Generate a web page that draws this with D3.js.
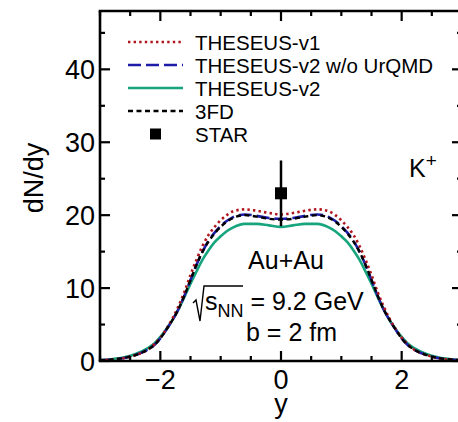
<!DOCTYPE html>
<html>
<head>
<meta charset="utf-8">
<script src="https://cdn.jsdelivr.net/npm/d3@7"></script>
<style>
  body { margin: 0; background: #fff; }
  svg { display: block; font-family: "Liberation Sans", Arial, sans-serif; }
</style>
</head>
<body>
<div id="chart"></div>
<script>
// rapidity grid
var rapidity = [-3, -2.8, -2.6, -2.4, -2.2, -2.1, -2.0, -1.9, -1.8, -1.7, -1.6, -1.5, -1.4, -1.3, -1.2, -1.1, -1.0, -0.9, -0.8, -0.6, -0.4, -0.2,
  0, 0.2, 0.4, 0.6, 0.8, 0.9, 1.0, 1.1, 1.2, 1.3, 1.4, 1.5, 1.6, 1.7, 1.8, 1.9, 2.0, 2.1, 2.2, 2.4, 2.6, 2.8, 3.0];

var theseusV1 = [0.1, 0.2, 0.42, 0.85, 1.6, 2.3, 3.2, 4.4, 5.8, 7.5, 9.5, 11.8, 13.9, 15.8, 17.3, 18.4, 19.3, 20.0, 20.5, 20.8, 20.6, 20.3,
  20.1, 20.3, 20.6, 20.8, 20.5, 20.0, 19.3, 18.4, 17.3, 15.8, 13.9, 11.8, 9.5, 7.5, 5.8, 4.4, 3.2, 2.3, 1.6, 0.85, 0.42, 0.2, 0.1];

var theseusV2noUrqmd = [0.1, 0.2, 0.42, 0.85, 1.6, 2.2, 3.1, 4.3, 5.6, 7.1, 9.0, 11.1, 13.2, 15.0, 16.5, 17.6, 18.5, 19.2, 19.7, 20.1, 19.9, 19.6,
  19.5, 19.6, 19.9, 20.1, 19.7, 19.2, 18.5, 17.6, 16.5, 15.0, 13.2, 11.1, 9.0, 7.1, 5.6, 4.3, 3.1, 2.2, 1.6, 0.85, 0.42, 0.2, 0.1];

var theseusV2 = [0.12, 0.25, 0.5, 1.0, 1.8, 2.4, 3.3, 4.4, 5.6, 7.1, 8.8, 10.6, 12.3, 13.9, 15.2, 16.3, 17.1, 17.8, 18.3, 18.8, 18.8, 18.6,
  18.4, 18.6, 18.8, 18.8, 18.3, 17.8, 17.1, 16.3, 15.2, 13.9, 12.3, 10.6, 8.8, 7.1, 5.6, 4.4, 3.3, 2.4, 1.8, 1.0, 0.5, 0.25, 0.12];

var fd3 = [0.1, 0.2, 0.42, 0.85, 1.6, 2.2, 3.1, 4.3, 5.6, 7.1, 9.0, 11.1, 13.2, 15.0, 16.4, 17.5, 18.4, 19.1, 19.6, 20.0, 19.8, 19.5,
  19.4, 19.5, 19.8, 20.0, 19.6, 19.1, 18.4, 17.5, 16.4, 15.0, 13.2, 11.1, 9.0, 7.1, 5.6, 4.3, 3.1, 2.2, 1.6, 0.85, 0.42, 0.2, 0.1];

var starY = [0];
var starVal = [23.0];
var starErr = [4.5];

var xTicks = [-2, 0, 2];
var yTicks = [0, 10, 20, 30, 40];

var legendNames = ['THESEUS-v1', 'THESEUS-v2 w/o UrQMD', 'THESEUS-v2', '3FD', 'STAR'];

var width = 458, height = 422;
var pLeft = 100, pRight = 462, pTop = 11, pBottom = 361;

var svg = d3.select('#chart').append('svg')
    .attr('width', width)
    .attr('height', height);

var x = d3.scaleLinear().domain([-3, 3]).range([pLeft, pRight]);
var y = d3.scaleLinear().domain([0, 48]).range([pBottom, pTop]);

var series = [
  {data: theseusV1, color: '#b0141c', dash: '2.4,3.2', width: 2.6},
  {data: theseusV2noUrqmd, color: '#1c1ca8', dash: '13,5', width: 2.6},
  {data: theseusV2, color: '#16a57c', dash: null, width: 2.6},
  {data: fd3, color: '#000', dash: '5,3.5', width: 2.4}
];

var line = d3.line()
    .x(function(d) { return x(d[0]); })
    .y(function(d) { return y(d[1]); })
    .curve(d3.curveMonotoneX);

var plot = svg.append('g');

// draw order: green, blue, red, black on top
[2, 1, 0, 3].forEach(function(i) {
  var s = series[i];
  plot.append('path')
      .attr('d', line(d3.zip(rapidity, s.data)))
      .attr('fill', 'none')
      .attr('stroke', s.color)
      .attr('stroke-width', s.width)
      .attr('stroke-dasharray', s.dash);
});

// STAR point
starY.forEach(function(d, i) {
  plot.append('line')
      .attr('x1', x(d)).attr('x2', x(d))
      .attr('y1', y(starVal[i] - starErr[i]))
      .attr('y2', y(starVal[i] + starErr[i]))
      .attr('stroke', '#000')
      .attr('stroke-width', 2.5);
  plot.append('rect')
      .attr('x', x(d) - 6).attr('y', y(starVal[i]) - 6)
      .attr('width', 12).attr('height', 12)
      .attr('fill', '#000');
});

// frame
var frame = svg.append('g').attr('stroke', '#000').attr('stroke-width', 2.6);
frame.append('line').attr('x1', pLeft - 1.3).attr('x2', pRight).attr('y1', pBottom).attr('y2', pBottom);
frame.append('line').attr('x1', pLeft - 1.3).attr('x2', pRight).attr('y1', pTop).attr('y2', pTop);
frame.append('line').attr('x1', pLeft).attr('x2', pLeft).attr('y1', pTop).attr('y2', pBottom);
frame.append('line').attr('x1', pRight).attr('x2', pRight).attr('y1', pTop).attr('y2', pBottom);

// ticks pointing inward
var ticks = svg.append('g').attr('stroke', '#000').attr('stroke-width', 2.2);
d3.range(-3, 3.01, 0.5).forEach(function(t) {
  var len = Math.round(t) === t && t % 2 === 0 ? 10 : 5;
  ticks.append('line').attr('x1', x(t)).attr('x2', x(t)).attr('y1', pBottom).attr('y2', pBottom - len);
  ticks.append('line').attr('x1', x(t)).attr('x2', x(t)).attr('y1', pTop).attr('y2', pTop + len);
});
d3.range(0, 48, 5).forEach(function(t) {
  var len = t % 10 === 0 ? 10 : 5;
  ticks.append('line').attr('y1', y(t)).attr('y2', y(t)).attr('x1', pLeft).attr('x2', pLeft + len);
  ticks.append('line').attr('y1', y(t)).attr('y2', y(t)).attr('x1', pRight).attr('x2', pRight - len);
});

// tick labels
svg.append('g').selectAll('text').data(yTicks).enter().append('text')
    .attr('x', pLeft - 5)
    .attr('y', function(d) { return y(d) + 9.5; })
    .attr('text-anchor', 'end')
    .style('font-size', '27px')
    .text(function(d) { return d; });

svg.append('g').selectAll('text').data(xTicks).enter().append('text')
    .attr('x', function(d) { return x(d); })
    .attr('y', 389)
    .attr('text-anchor', 'middle')
    .style('font-size', '27px')
    .text(function(d) { return d < 0 ? '\u2212' + Math.abs(d) : d; });

// axis titles
svg.append('text')
    .attr('transform', 'translate(43,178) rotate(-90)')
    .attr('text-anchor', 'middle')
    .style('font-size', '27px')
    .text('dN/dy');

svg.append('text')
    .attr('x', x(0)).attr('y', 413)
    .attr('text-anchor', 'middle')
    .style('font-size', '27px')
    .text('y');

// legend
var legend = svg.append('g');
var rowY = [42, 65, 88, 111, 134];
legendNames.forEach(function(name, i) {
  if (i < 4) {
    var s = series[i];
    legend.append('line')
        .attr('x1', 128).attr('x2', 183)
        .attr('y1', rowY[i]).attr('y2', rowY[i])
        .attr('stroke', s.color)
        .attr('stroke-width', s.width)
        .attr('stroke-dasharray', s.dash);
  } else {
    legend.append('rect')
        .attr('x', 150).attr('y', rowY[i] - 5.5)
        .attr('width', 11).attr('height', 11)
        .attr('fill', '#000');
  }
  legend.append('text')
      .attr('x', 195).attr('y', rowY[i] + 7.5)
      .style('font-size', '20.5px')
      .text(name);
});

// annotations
var k = svg.append('text').attr('x', 409).attr('y', 177).style('font-size', '25px');
k.append('tspan').text('K');
k.append('tspan').attr('dy', -10).style('font-size', '19px').text('+');

svg.append('text')
    .attr('x', 286).attr('y', 269)
    .attr('text-anchor', 'middle')
    .style('font-size', '25px')
    .text('Au+Au');

// sqrt(s_NN) = 9.2 GeV
svg.append('path')
    .attr('d', 'M193,303 L196,300 L200,321 L204,286 L243,286')
    .attr('fill', 'none')
    .attr('stroke', '#000')
    .attr('stroke-width', 1.4);
var s = svg.append('text').attr('x', 205).attr('y', 310).style('font-size', '25px');
s.append('tspan').text('s');
s.append('tspan').attr('dy', 7).style('font-size', '18px').text('NN');
s.append('tspan').attr('dy', -7).text(' = 9.2 GeV');

svg.append('text')
    .attr('x', 246).attr('y', 341)
    .style('font-size', '25px')
    .text('b = 2 fm');
</script>
</body>
</html>
